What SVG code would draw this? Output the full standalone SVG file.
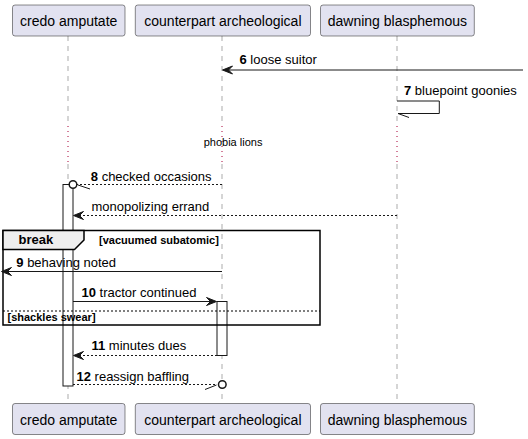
<svg xmlns="http://www.w3.org/2000/svg" width="528" height="439" viewBox="0 0 528 439">
<defs>
<style>
text{font-family:"Liberation Sans",Arial,sans-serif;fill:#000}
.pbox{fill:#E2E2F0;stroke:#181818;stroke-width:0.5}
.pname{font-size:14px;text-anchor:middle}
.life{stroke:#555555;stroke-width:0.5;stroke-dasharray:5,5;fill:none}
.dots{stroke:#A80036;stroke-width:1;stroke-dasharray:1,4;fill:none}
.msg{font-size:13px}
.num{font-weight:bold}
.solid{stroke:#181818;stroke-width:1;fill:none}
.dash{stroke:#181818;stroke-width:1;stroke-dasharray:2,2;fill:none}
.head{fill:#181818;stroke:#181818;stroke-width:1}
.act{fill:#FFFFFF;stroke:#181818;stroke-width:1}
.frame{fill:none;stroke:#000000;stroke-width:1.5}
.ftab{fill:#EEEEEE;stroke:#000000;stroke-width:1.5}
.guard{font-size:11px;font-weight:bold}
</style>
</defs>

<g id="lifelines">
<line class="life" x1="68" y1="36" x2="68" y2="122"/>
<line class="dots" x1="68" y1="126" x2="68" y2="162"/>
<line class="life" x1="68" y1="164" x2="68" y2="403"/>
<line class="life" x1="222" y1="36" x2="222" y2="122"/>
<line class="dots" x1="222" y1="126" x2="222" y2="162"/>
<line class="life" x1="222" y1="164" x2="222" y2="403"/>
<line class="life" x1="397" y1="36" x2="397" y2="122"/>
<line class="dots" x1="397" y1="126" x2="397" y2="162"/>
<line class="life" x1="397" y1="164" x2="397" y2="403"/>
</g>

<g id="credo-amputate">
<rect class="pbox" x="12.5" y="5" width="112.5" height="31" rx="2.5"/>
<text class="pname" x="68.7" y="26">credo amputate</text>
<rect class="pbox" x="12.5" y="403.5" width="112.5" height="31" rx="2.5"/>
<text class="pname" x="68.7" y="424.5">credo amputate</text>
</g>

<g id="counterpart-archeological">
<rect class="pbox" x="135.3" y="5" width="175.2" height="31" rx="2.5"/>
<text class="pname" x="222.9" y="26">counterpart archeological</text>
<rect class="pbox" x="135.3" y="403.5" width="175.2" height="31" rx="2.5"/>
<text class="pname" x="222.9" y="424.5">counterpart archeological</text>
</g>

<g id="dawning-blasphemous">
<rect class="pbox" x="320.5" y="5" width="153.8" height="31" rx="2.5"/>
<text class="pname" x="397.4" y="26">dawning blasphemous</text>
<rect class="pbox" x="320.5" y="403.5" width="153.8" height="31" rx="2.5"/>
<text class="pname" x="397.4" y="424.5">dawning blasphemous</text>
</g>

<g id="activations">
<rect class="act" x="63" y="184.5" width="10" height="201.5"/>
<rect class="act" x="217" y="301.5" width="10" height="54"/>
</g>

<g id="break-frame">
<rect class="frame" x="3" y="230.5" width="317" height="94.5"/>
<path class="ftab" d="M3,230.5 L84,230.5 L84,240 L74.5,249.5 L3,249.5 Z"/>
<text x="18.5" y="244" style="font-size:13px;font-weight:bold">break</text>
<text class="guard" x="99" y="244">[vacuumed subatomic]</text>
<line x1="3" y1="311" x2="320" y2="311" style="stroke:#000;stroke-width:1;stroke-dasharray:2,2"/>
<text class="guard" x="7.5" y="321">[shackles swear]</text>
</g>

<g id="divider">
<text x="203.7" y="146" style="font-size:11px">phobia lions</text>
</g>

<g id="connectors">
<!-- 6 -->
<line class="solid" x1="523" y1="70" x2="224" y2="70"/>
<polygon class="head" points="222.5,70 232.5,66 228.5,70 232.5,74"/>
<text class="msg" x="239.5" y="64"><tspan class="num">6</tspan> loose suitor</text>
<!-- 7 -->
<polyline class="solid" points="397,101 439.3,101 439.3,113.5 398,113.5"/>
<line class="solid" x1="398" y1="113.5" x2="409" y2="117.5"/>
<text class="msg" x="404" y="95"><tspan class="num">7</tspan> bluepoint goonies</text>
<!-- 8 -->
<line class="dash" x1="222" y1="184.5" x2="77" y2="184.5"/>
<circle cx="73" cy="184.5" r="3.8" style="fill:#fff;stroke:#181818;stroke-width:1.5"/>
<line class="solid" x1="78" y1="185" x2="90" y2="189"/>
<text class="msg" x="90.8" y="180.8"><tspan class="num">8</tspan> checked occasions</text>
<!-- monopolizing -->
<line class="dash" x1="397" y1="215.5" x2="75" y2="215.5"/>
<polygon class="head" points="73.5,215.5 83.5,211.5 79.5,215.5 83.5,219.5"/>
<text class="msg" x="91.5" y="211">monopolizing errand</text>
<!-- 9 -->
<line class="solid" x1="222" y1="271.5" x2="3" y2="271.5"/>
<polygon class="head" points="1.5,271.5 11.5,267.5 7.5,271.5 11.5,275.5"/>
<text class="msg" x="16.3" y="266.8"><tspan class="num">9</tspan> behaving noted</text>
<!-- 10 -->
<line class="solid" x1="73" y1="301.5" x2="215" y2="301.5"/>
<polygon class="head" points="216.5,301.5 206.5,297.5 210.5,301.5 206.5,305.5"/>
<text class="msg" x="81.5" y="296.8"><tspan class="num">10</tspan> tractor continued</text>
<!-- 11 -->
<line class="dash" x1="217" y1="355.5" x2="75" y2="355.5"/>
<polygon class="head" points="73.5,355.5 83.5,351.5 79.5,355.5 83.5,359.5"/>
<text class="msg" x="91.5" y="350"><tspan class="num">11</tspan> minutes dues</text>
<!-- 12 -->
<line class="dash" x1="73" y1="384.5" x2="217" y2="384.5"/>
<circle cx="222.3" cy="384.5" r="3.8" style="fill:#fff;stroke:#181818;stroke-width:1.5"/>
<line class="solid" x1="216.5" y1="385" x2="205" y2="389.5"/>
<text class="msg" x="76.5" y="381"><tspan class="num">12</tspan> reassign baffling</text>
</g>
</svg>
